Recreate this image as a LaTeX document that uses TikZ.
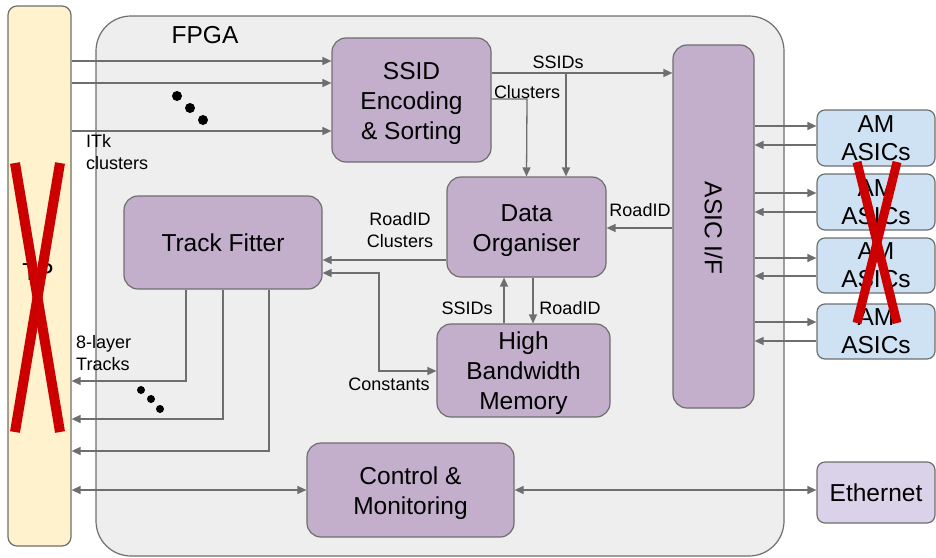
\documentclass[tikz,border=0pt]{standalone}
\usepackage{fontspec}
\setmainfont{Liberation Sans}
\usetikzlibrary{arrows.meta}
\definecolor{linegray}{HTML}{6E6E6E}
\definecolor{boxpurple}{HTML}{C3AFCC}
\definecolor{boxblue}{HTML}{CFE2F3}
\definecolor{boxlilac}{HTML}{D9D2E9}
\definecolor{tpyellow}{HTML}{FFF2CC}
\definecolor{fpgagray}{HTML}{EEEEEE}
\definecolor{xred}{HTML}{CC0000}
\newcommand{\btxt}[1]{\raisebox{-3pt}[\height][\depth]{\begin{tabular}{@{}c@{}}#1\end{tabular}}}
\begin{document}
\begin{tikzpicture}[x=1pt,y=-1pt,
  blk/.style={draw=linegray, line width=1.2pt, fill=boxpurple, rounded corners=14pt,
     align=center, inner sep=0pt, font=\fontsize{24.5}{30}\selectfont},
  amblk/.style={draw=linegray, line width=1.2pt, fill=boxblue, rounded corners=8pt,
     align=center, inner sep=0pt, minimum width=118pt, font=\fontsize{24.5}{28}\selectfont},
  arr/.style={draw=linegray, line width=1.3pt, -{Triangle[length=9pt,width=8pt]}},
  darr/.style={draw=linegray, line width=1.3pt, {Triangle[length=9pt,width=8pt]}-{Triangle[length=9pt,width=8pt]}},
  lbl/.style={font=\fontsize{18}{22.5}\selectfont, align=left, inner sep=0pt},
  dot/.style={circle, fill=black, minimum size=10pt, inner sep=0pt},
  redx/.style={draw=xred, line width=10pt}
]
\useasboundingbox (0,0) rectangle (936,557);
% containers
\node[draw=linegray, line width=1.2pt, fill=tpyellow, rounded corners=9pt,
  minimum width=63pt, minimum height=540pt, inner sep=0pt] (tp) at (39.5,276) {};
\node[font=\fontsize{24.5}{28}\selectfont] (tptext) at (38,272) {TP};
\node[draw=linegray, line width=1.2pt, fill=fpgagray, rounded corners=35pt,
  minimum width=688pt, minimum height=540pt, inner sep=0pt] (fpga) at (440,286) {};
\node[font=\fontsize{24.5}{28}\selectfont, anchor=base] (fpgatext) at (205,43) {FPGA};

% blocks
\node[blk, minimum width=159pt, minimum height=124pt] (ssid) at (411.5,100) {\btxt{SSID\\Encoding\\\& Sorting}};
\node[blk, minimum width=159pt, minimum height=100pt] (do) at (526.5,227) {\btxt{Data\\Organiser}};
\node[blk, minimum width=198pt, minimum height=93pt] (tf) at (223,242.5) {\btxt{Track Fitter}};
\node[blk, minimum width=173pt, minimum height=93pt] (hbm) at (523.5,370.5) {\btxt{High\\Bandwidth\\Memory}};
\node[blk, minimum width=81pt, minimum height=363pt] (asic) at (713.5,226.5) {};
\node[font=\fontsize{24.5}{28}\selectfont, rotate=-90] (asictext) at (713.5,228) {ASIC I/F};
\node[blk, minimum width=207pt, minimum height=94pt] (cm) at (410.5,490) {\btxt{Control \&\\Monitoring}};

\node[amblk, minimum height=56pt] (am1) at (876,138) {AM\\ASICs};
\node[amblk, minimum height=56pt] (am2) at (876,202) {AM\\ASICs};
\node[amblk, minimum height=55pt] (am3) at (876,265.5) {AM\\ASICs};
\node[amblk, minimum height=55pt] (am4) at (876,331.5) {AM\\ASICs};
\node[amblk, fill=boxlilac, minimum height=61pt] (eth) at (876,492.5) {Ethernet};

% inputs to SSID
\draw[arr] (tp.east |- 0,61) -- (ssid.west |- 0,61);
\draw[arr] (tp.east |- 0,83) -- (ssid.west |- 0,83);
\draw[arr] (tp.east |- 0,131) -- (ssid.west |- 0,131);
\node[dot] (d1) at (177,96) {};
\node[dot] (d2) at (190,108) {};
\node[dot] (d3) at (203,120) {};
\node[lbl, anchor=north west] (itk) at (86,134) {ITk\\clusters};

% SSID outputs
\draw[arr] (ssid.east |- 0,73) -- (asic.west |- 0,73);
\draw[arr] (566,73) -- (do.north -| 566,0);
\node[lbl, anchor=base] (ssidslbl) at (558,68) {SSIDs};
\draw[arr] (ssid.east |- 0,99) -- (527,99) -- (do.north);
\node[lbl, anchor=base] (clulbl) at (527,98) {Clusters};

% RoadID from ASIC I/F
\draw[arr] (asic.west |- 0,228) -- (do.east |- 0,228);
\node[lbl, anchor=base] (roadlbl) at (640,216) {RoadID};

% DO -> TF
\draw[arr] (do.west |- 0,260) -- (tf.east |- 0,260);
\node[lbl, anchor=north, align=center] (rclbl) at (400,212) {RoadID\\Clusters};

% Constants
\draw[darr] (tf.east |- 0,273) -- (379,273) -- (379,371) -- (hbm.west |- 0,371);
\node[lbl, anchor=base] (constlbl) at (389,390) {Constants};

% DO <-> HBM
\draw[arr] (hbm.north -| 504,0) -- (do.south -| 504,0);
\node[lbl, anchor=base] (ssidlbl2) at (467,314) {SSIDs};
\draw[arr] (do.south -| 533,0) -- (hbm.north -| 533,0);
\node[lbl, anchor=base] (roadlbl2) at (570,314) {RoadID};

% TF outputs
\draw[arr] (tf.south -| 186,0) -- (186,381) -- (tp.east |- 0,381);
\draw[arr] (tf.south -| 223,0) -- (223,419) -- (tp.east |- 0,419);
\draw[arr] (tf.south -| 269,0) -- (269,451) -- (tp.east |- 0,451);
\node[dot, minimum size=8pt] (e1) at (141,390) {};
\node[dot, minimum size=8pt] (e2) at (151,399) {};
\node[dot, minimum size=8pt] (e3) at (160,409) {};
\node[lbl, anchor=north west] (tracks) at (76,335) {8-layer\\Tracks};

% control
\draw[darr] (tp.east |- 0,490) -- (cm.west |- 0,490);
\draw[darr] (cm.east |- 0,490) -- (eth.west |- 0,490);

% AM links
\foreach \n/\a/\b in {am1/126/145, am2/193/212, am3/258/276, am4/322/341}{
  \draw[arr] (asic.east |- 0,\a) -- (\n.west |- 0,\a);
  \draw[arr] (\n.west |- 0,\b) -- (asic.east |- 0,\b);
}

% red crosses
\coordinate (xa1) at (15,163); \coordinate (xa2) at (60,432);
\coordinate (xb1) at (60,163); \coordinate (xb2) at (15,432);
\draw[redx] (xa1) -- (xa2);
\draw[redx] (xb1) -- (xb2);
\coordinate (ya1) at (857,162); \coordinate (ya2) at (897,323);
\coordinate (yb1) at (897,162); \coordinate (yb2) at (857,323);
\draw[redx, line width=9pt] (ya1) -- (ya2);
\draw[redx, line width=9pt] (yb1) -- (yb2);
\end{tikzpicture}
\end{document}
